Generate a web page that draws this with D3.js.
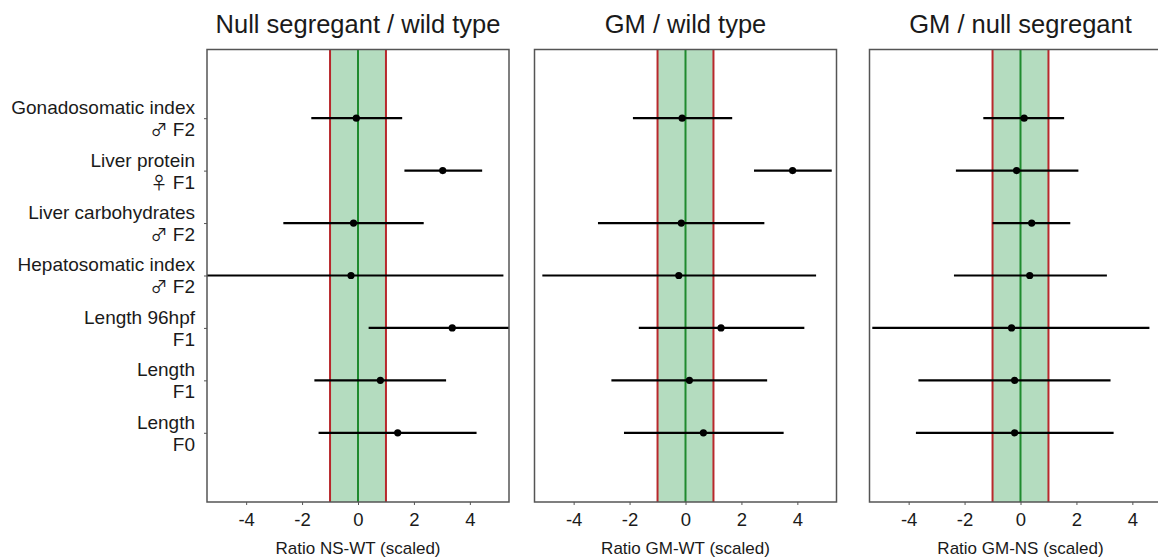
<!DOCTYPE html>
<html>
<head>
<meta charset="utf-8">
<script src="https://cdn.jsdelivr.net/npm/d3@7"></script>
<style>
  body { margin: 0; background: #fff; }
  svg text { font-family: "Liberation Sans", Arial, sans-serif; fill: #1a1a1a; }
  .sym { font-family: "Noto Sans CJK JP", "DejaVu Sans", sans-serif; }
</style>
</head>
<body>
<script>
// Row labels, top to bottom
const traits = ["Gonadosomatic index", "Liver protein", "Liver carbohydrates", "Hepatosomatic index", "Length 96hpf", "Length", "Length"];
const sexes = ["♂", "♀", "♂", "♂", "", "", ""];
const generations = ["F2", "F1", "F2", "F2", "F1", "F1", "F0"];

// Panel titles and x-axis titles
const panelTitles = ["Null segregant / wild type", "GM / wild type", "GM / null segregant"];
const axisTitles = ["Ratio NS-WT (scaled)", "Ratio GM-WT (scaled)", "Ratio GM-NS (scaled)"];

// Estimates and intervals (scaled ratios), same row order as traits
const nsWtEst = [-0.06, 3.03, -0.16, -0.25, 3.37, 0.80, 1.42];
const nsWtLow = [-1.67, 1.66, -2.67, -5.70, 0.38, -1.56, -1.41];
const nsWtHigh = [1.58, 4.44, 2.35, 5.20, 6.36, 3.15, 4.24];

const gmWtEst = [-0.12, 3.83, -0.15, -0.24, 1.27, 0.14, 0.64];
const gmWtLow = [-1.88, 2.45, -3.13, -5.12, -1.67, -2.65, -2.20];
const gmWtHigh = [1.67, 5.23, 2.82, 4.67, 4.25, 2.92, 3.51];

const gmNsEst = [0.13, -0.14, 0.40, 0.33, -0.32, -0.21, -0.21];
const gmNsLow = [-1.33, -2.31, -1.00, -2.38, -5.30, -3.65, -3.74];
const gmNsHigh = [1.56, 2.07, 1.78, 3.09, 4.61, 3.22, 3.33];

const xTicks = [-4, -2, 0, 2, 4];
const bandLimits = [-1, 1]; // equivalence band

const panels = [
  { est: nsWtEst, low: nsWtLow, high: nsWtHigh },
  { est: gmWtEst, low: gmWtLow, high: gmWtHigh },
  { est: gmNsEst, low: gmNsLow, high: gmNsHigh }
];

const svgWidth = 1158;
const svgHeight = 559;
const panelLeft = [207, 534.5, 869.5]; // left edge of each panel
const panelWidth = 302;
const plotTop = 49.5;
const plotBottom = 502;

const svg = d3.select("body").append("svg")
  .attr("width", svgWidth)
  .attr("height", svgHeight);

const x = d3.scaleLinear().domain([-5.4, 5.4]).range([0, panelWidth]);
// row index 0 (top) .. 6 (bottom)
const y = d3.scaleLinear().domain([-1.31, 7.32]).range([plotTop, plotBottom]);

panels.forEach((p, k) => {
  const g = svg.append("g").attr("transform", "translate(" + panelLeft[k] + ",0)");

  g.append("clipPath").attr("id", "clip" + k)
    .append("rect")
    .attr("x", 0).attr("y", plotTop)
    .attr("width", panelWidth).attr("height", plotBottom - plotTop);

  const inner = g.append("g").attr("clip-path", "url(#clip" + k + ")");

  // green band
  inner.append("rect")
    .attr("x", x(bandLimits[0]))
    .attr("y", plotTop)
    .attr("width", x(bandLimits[1]) - x(bandLimits[0]))
    .attr("height", plotBottom - plotTop)
    .attr("fill", "#b4dcbf");

  inner.selectAll(".limit")
    .data(bandLimits)
    .enter().append("line")
    .attr("x1", d => x(d)).attr("x2", d => x(d))
    .attr("y1", plotTop).attr("y2", plotBottom)
    .attr("stroke", "#b8282c")
    .attr("stroke-width", 2);

  inner.append("line")
    .attr("x1", x(0)).attr("x2", x(0))
    .attr("y1", plotTop).attr("y2", plotBottom)
    .attr("stroke", "#1f8a2e")
    .attr("stroke-width", 2);

  // error bars
  inner.selectAll(".bar")
    .data(p.est)
    .enter().append("line")
    .attr("x1", (d, i) => x(p.low[i]))
    .attr("x2", (d, i) => x(p.high[i]))
    .attr("y1", (d, i) => y(i))
    .attr("y2", (d, i) => y(i))
    .attr("stroke", "#000")
    .attr("stroke-width", 2.2);

  inner.selectAll(".dot")
    .data(p.est)
    .enter().append("circle")
    .attr("cx", d => x(d))
    .attr("cy", (d, i) => y(i))
    .attr("r", 3.6)
    .attr("fill", "#000");

  // border
  g.append("rect")
    .attr("x", 0).attr("y", plotTop)
    .attr("width", panelWidth).attr("height", plotBottom - plotTop)
    .attr("fill", "none")
    .attr("stroke", "#555")
    .attr("stroke-width", 1.5);

  const xAxis = d3.axisBottom(x)
    .tickValues(xTicks)
    .tickFormat(d => String(d))
    .tickSize(3)
    .tickPadding(8);

  const ax = g.append("g")
    .attr("transform", "translate(0," + plotBottom + ")")
    .call(xAxis);
  ax.select(".domain").remove();
  ax.selectAll(".tick line").attr("stroke", "#555");
  ax.selectAll(".tick text")
    .style("font-size", "18.5px")
    .attr("fill", "#1a1a1a");

  g.append("text")
    .attr("x", panelWidth / 2)
    .attr("y", 554)
    .attr("text-anchor", "middle")
    .style("font-size", "17px")
    .text(axisTitles[k]);

  g.append("text")
    .attr("x", panelWidth / 2)
    .attr("y", 33)
    .attr("text-anchor", "middle")
    .style("font-size", "25.5px")
    .text(panelTitles[k]);

  if (k === 0) {
    const yAxis = d3.axisLeft(y)
      .tickValues(d3.range(traits.length))
      .tickFormat("")
      .tickSize(3);
    const ay = g.append("g").call(yAxis);
    ay.select(".domain").remove();
    ay.selectAll(".tick line").attr("stroke", "#555");

    const labels = g.selectAll(".rowlabel")
      .data(traits)
      .enter().append("text")
      .attr("text-anchor", "end")
      .style("font-size", "19px")
      .attr("transform", (d, i) => "translate(-12," + y(i) + ")");
    labels.append("tspan").attr("x", 0).attr("y", -4).text(d => d);
    const second = labels.append("tspan").attr("x", 0).attr("y", 18);
    second.filter((d, i) => sexes[i] !== "")
      .append("tspan").attr("class", "sym")
      .style("font-size", "17px")
      .text((d, i) => sexes[i]);
    second.append("tspan")
      .text((d, i) => (sexes[i] !== "" ? " " : "") + generations[i]);
  }
});
</script>
</body>
</html>
